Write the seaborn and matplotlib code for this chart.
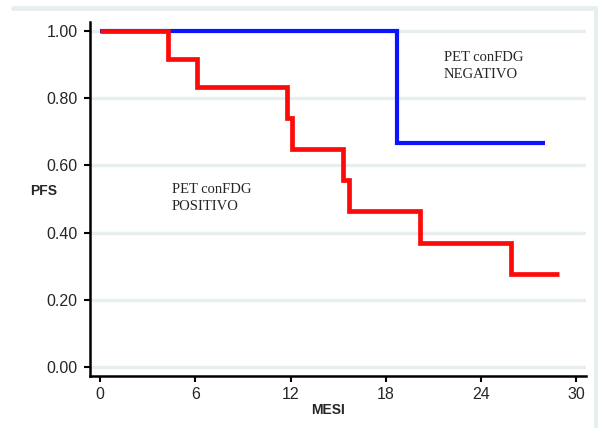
import matplotlib
matplotlib.use("Agg")
import matplotlib.pyplot as plt
from matplotlib.lines import Line2D
import seaborn as sns
import pandas as pd

# Data
neg_time = [0, 18.7, 28.0]
neg_pfs = [1.00, 0.667, 0.667]
pos_time = [0, 4.3, 6.1, 11.8, 12.1, 15.3, 15.7, 20.15, 25.9, 28.9]
pos_pfs = [1.00, 0.917, 0.833, 0.741, 0.648, 0.556, 0.463, 0.370, 0.278, 0.278]
x_ticks = [0, 6, 12, 18, 24, 30]
y_ticks = [0.0, 0.2, 0.4, 0.6, 0.8, 1.0]
y_ticklabels = ["0.00", "0.20", "0.40", "0.60", "0.80", "1.00"]

sns.set_style("white")
plt.rcParams["font.family"] = ["Liberation Sans", "DejaVu Sans"]

fig = plt.figure(figsize=(5.98, 4.28), dpi=100)
ax = fig.add_axes([90 / 598, 1 - 376 / 428, (586 - 90) / 598, (376 - 22) / 428])

grid_color = "#e7eef0"
for yv in y_ticks:
    ax.axhline(yv, color=grid_color, lw=2.4, zorder=0)

df_neg = pd.DataFrame({"t": neg_time, "s": neg_pfs})
df_pos = pd.DataFrame({"t": pos_time, "s": pos_pfs})
sns.lineplot(data=df_neg, x="t", y="s", ax=ax, color="#0a14ff", lw=3.0,
             drawstyle="steps-post", estimator=None, sort=False,
             solid_joinstyle="miter", solid_capstyle="butt", zorder=3)
sns.lineplot(data=df_pos, x="t", y="s", ax=ax, color="#ff0a0a", lw=3.4,
             drawstyle="steps-post", estimator=None, sort=False,
             solid_joinstyle="miter", solid_capstyle="butt", zorder=4)

ax.set_xlim(-0.63, 30.6)
ax.set_ylim(-0.027, 1.027)
ax.set_xticks(x_ticks)
ax.set_yticks(y_ticks)
ax.set_yticklabels(y_ticklabels)
ax.tick_params(axis="both", direction="out", length=4, width=1.5,
               color="black", labelsize=11.5, left=True, bottom=True)
ax.tick_params(axis="y", pad=5)
ax.tick_params(axis="x", pad=4)

for side in ["top", "right"]:
    ax.spines[side].set_visible(False)
for side in ["left", "bottom"]:
    ax.spines[side].set_color("black")
    ax.spines[side].set_linewidth(1.8)

ax.set_xlabel("MESI", fontsize=10, fontweight="bold")
ax.xaxis.set_label_coords((328 - 90) / 496, -0.075)
ax.set_ylabel("")
fig.text(30 / 598, 1 - 191 / 428, "PFS", fontsize=10, fontweight="bold",
         ha="left", va="center")

ax.text(444 / 598, 1 - 66 / 428, "PET conFDG\nNEGATIVO", transform=fig.transFigure,
        family=["Liberation Serif"], fontsize=10.5, ha="left", va="center",
        linespacing=1.45)
ax.text(172 / 598, 1 - 198 / 428, "PET conFDG\nPOSITIVO", transform=fig.transFigure,
        family=["Liberation Serif"], fontsize=10.5, ha="left", va="center",
        linespacing=1.45)

# light frame around the panel (top and right)
fig.add_artist(Line2D([13 / 598, 596 / 598], [1 - 8 / 428, 1 - 8 / 428],
                      color=grid_color, lw=3.5, transform=fig.transFigure))
fig.add_artist(Line2D([596 / 598, 596 / 598], [1 - 8 / 428, 0],
                      color=grid_color, lw=3.5, transform=fig.transFigure))

fig.savefig("out.png", dpi=100)
